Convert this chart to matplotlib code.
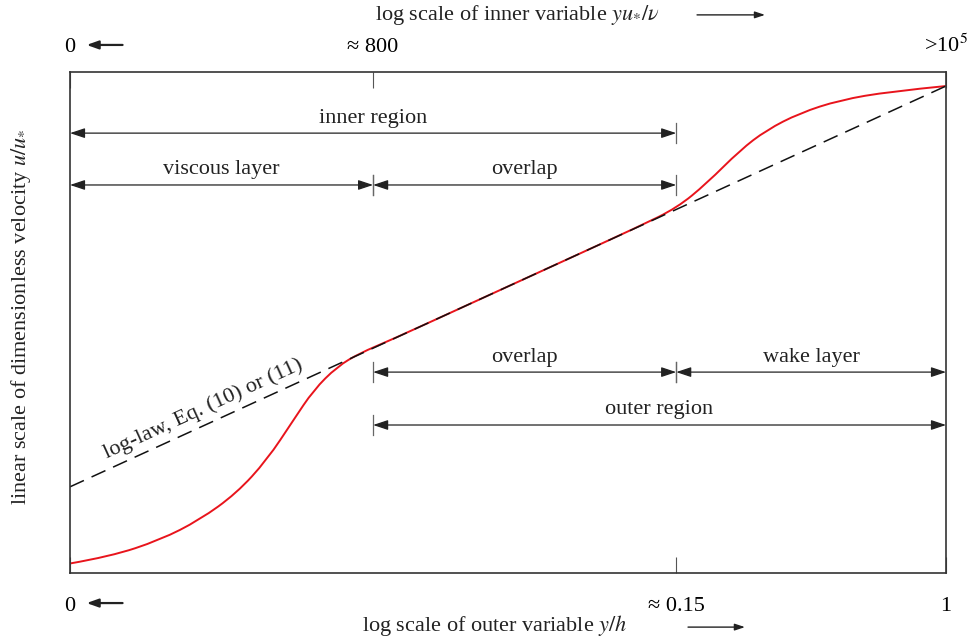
import numpy as np
import matplotlib
matplotlib.use("Agg")
import matplotlib.pyplot as plt
from matplotlib.path import Path
from matplotlib.patches import PathPatch

plt.rcParams['font.family'] = ['Liberation Serif', 'DejaVu Serif']
plt.rcParams['mathtext.fontset'] = 'stix'

# velocity profile (normalised: x = log position, y = u/u*)
profile_x = [0.0, 0.046, 0.103, 0.148, 0.190, 0.225, 0.255, 0.278, 0.305, 0.331,
             0.365, 0.45, 0.55, 0.65, 0.693, 0.727, 0.765, 0.795, 0.833, 0.879, 0.936, 1.0]
profile_y = [0.019, 0.033, 0.066, 0.106, 0.159, 0.226, 0.305, 0.365, 0.412, 0.439,
             0.464, 0.532, 0.612, 0.692, 0.729, 0.778, 0.844, 0.884, 0.918, 0.944, 0.961, 0.972]

# log-law line
loglaw_x = [0.0, 1.0]
loglaw_y = [0.172, 0.972]

# axis ticks
inner_ticks = [0.0, 0.346, 1.0]
inner_labels = ['0', '≈ 800', r'>10$^5$']
outer_ticks = [0.0, 0.692, 1.0]
outer_labels = ['0', '≈ 0.15', '1']

# region spans: start, end, height, label
span_start = [0.0, 0.0, 0.346, 0.346, 0.692, 0.346]
span_end = [0.692, 0.346, 0.692, 0.692, 1.0, 1.0]
span_y = [0.878, 0.7745, 0.7745, 0.401, 0.401, 0.2954]
span_label = ['inner region', 'viscous layer', 'overlap', 'overlap', 'wake layer', 'outer region']

fig = plt.figure(figsize=(9.72, 6.42), dpi=100)
ax = fig.add_axes([70/972, 1-573/642, 876/972, 501/642])
ax.set_xlim(0, 1)
ax.set_ylim(0, 1)
for s in ax.spines.values():
    s.set_linewidth(1.2)
    s.set_color('#333333')
ax.set_yticks([])

# bottom (outer) ticks
ax.set_xticks(outer_ticks)
ax.set_xticklabels(outer_labels, fontsize=16)
ax.tick_params(axis='x', direction='in', length=11.5, width=0.8, color='#555555', pad=17)

# top (inner) ticks
sec = ax.secondary_xaxis('top')
sec.set_xticks(inner_ticks)
sec.set_xticklabels(inner_labels, fontsize=16)
sec.tick_params(direction='in', length=11.5, width=0.8, color='#555555', pad=10.5)
sec.spines['top'].set_visible(False)

# log-law dashed line
ax.plot(loglaw_x, loglaw_y, color='#111111', lw=1.1, dashes=(10, 5.5))

# smooth red profile through read points
pts = np.column_stack([profile_x, profile_y])
verts = [pts[0]]
codes = [Path.MOVETO]
for i in range(1, len(pts) - 2):
    verts += [pts[i], (pts[i] + pts[i+1]) / 2]
    codes += [Path.CURVE3, Path.CURVE3]
verts += [pts[-2], pts[-1]]
codes += [Path.CURVE3, Path.CURVE3]
ax.add_patch(PathPatch(Path(verts, codes), fill=False, edgecolor='#e8141c', lw=1.4,
                       transform=ax.transData, clip_on=False))

# span arrows
arrow_kw = dict(arrowstyle='<|-|>,head_length=0.9,head_width=0.3', mutation_scale=10,
                lw=0.9, color='#222222', shrinkA=0, shrinkB=0)
bar = 0.02
for x0, x1, y, lab in zip(span_start, span_end, span_y, span_label):
    ax.annotate('', xy=(x1, y), xytext=(x0, y), arrowprops=arrow_kw)
    ax.annotate(lab, xy=((x0 + x1) / 2, y), xytext=(0, 4), textcoords='offset points',
                ha='center', va='bottom', fontsize=16, color='#222222')
    for xe in (x0, x1):
        if 0 < xe < 1:
            ax.plot([xe, xe], [y - bar, y + bar], color='#666666', lw=0.9)

# log-law label
ax.text(0.152, 0.327, 'log-law, Eq. (10) or (11)', rotation=24.6, rotation_mode='anchor',
        ha='center', va='center', fontsize=16, color='#222222')

# small arrows beside zeros
small_kw = dict(arrowstyle='-|>,head_length=0.7,head_width=0.25', mutation_scale=10,
                lw=1.6, color='#222222', shrinkA=0, shrinkB=0)
ax.annotate('', xy=(0.019, 1.054), xytext=(0.060, 1.054), arrowprops=small_kw,
            annotation_clip=False)
ax.annotate('', xy=(0.019, -0.060), xytext=(0.060, -0.060), arrowprops=small_kw,
            annotation_clip=False)

# axis titles
thin_kw = dict(arrowstyle='-|>,head_length=0.6,head_width=0.2', mutation_scale=10,
               lw=1.0, color='#222222', shrinkA=0, shrinkB=0)
fig.text(517/972, 1-15/642, r'log scale of inner variable $yu_{*}/\nu$', ha='center',
         va='center', fontsize=16, color='#222222')
ax.annotate('', xy=(0.7934, 1.114), xytext=(0.7158, 1.114), arrowprops=thin_kw,
            annotation_clip=False)
fig.text(495/972, 1-625/642, r'log scale of outer variable $y/h$', ha='center',
         va='center', fontsize=16, color='#222222')
ax.annotate('', xy=(0.7705, -0.108), xytext=(0.7055, -0.108), arrowprops=thin_kw,
            annotation_clip=False)
fig.text(21/972, 1-317/642, r'linear scale of dimensionless velocity $u/u_{*}$',
         rotation=90, ha='center', va='center', fontsize=16, color='#222222')

fig.savefig('out.png', dpi=100)
